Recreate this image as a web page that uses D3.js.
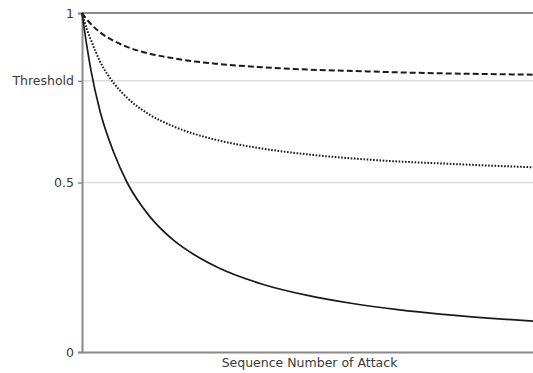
<!DOCTYPE html>
<html>
<head>
<meta charset="utf-8">
<script src="https://cdn.jsdelivr.net/npm/d3@7"></script>
<style>
  html, body { margin: 0; padding: 0; background: #fff; }
  text { font-family: "DejaVu Sans", sans-serif; fill: #333; }
</style>
</head>
<body>
<div id="chart"></div>
<script>
// === data ===
const attackNo   = [0, 1, 2, 4, 7, 10, 15, 20, 25, 30, 40, 50, 60, 70, 80, 90, 100];
const solidVals  = [1, 0.909, 0.83, 0.71, 0.59, 0.50, 0.40, 0.333, 0.286, 0.25, 0.20, 0.167, 0.143, 0.125, 0.111, 0.10, 0.091];
const dottedVals = [1, 0.955, 0.92, 0.857, 0.794, 0.75, 0.70, 0.667, 0.643, 0.625, 0.60, 0.583, 0.571, 0.562, 0.556, 0.55, 0.545];
const dashedVals = [1, 0.982, 0.967, 0.943, 0.918, 0.90, 0.88, 0.867, 0.857, 0.85, 0.84, 0.833, 0.829, 0.825, 0.822, 0.82, 0.818];
const yTickVals  = [0, 0.5, 0.8, 1];
const yTickText  = ["0", "0.5", "Threshold", "1"];
const gridVals   = [0.5, 0.8];

// === sizing ===
const outerW = 533, outerH = 373;
const margin = { top: 13, right: 0, bottom: 21, left: 82 };
const width  = outerW - margin.left - margin.right;
const height = outerH - margin.top - margin.bottom;

const svg = d3.select("#chart").append("svg")
  .attr("width", outerW).attr("height", outerH);
const g = svg.append("g").attr("transform", `translate(${margin.left},${margin.top})`);

const x = d3.scaleLinear().domain([0, 100]).range([0, width]);
const y = d3.scaleLinear().domain([0, 1]).range([height, 0]);

// grid lines
g.append("g").selectAll("line").data(gridVals).join("line")
  .attr("x1", 0).attr("x2", width)
  .attr("y1", d => y(d)).attr("y2", d => y(d))
  .attr("stroke", "#dcdcdc").attr("stroke-width", 1.5);

// top line at 1
g.append("line")
  .attr("x1", 0).attr("x2", width)
  .attr("y1", y(1)).attr("y2", y(1))
  .attr("stroke", "#8a8a8a").attr("stroke-width", 2);

// axes
const yAxis = g.append("g")
  .call(d3.axisLeft(y).tickValues(yTickVals).tickFormat((d, i) => yTickText[i]).tickSize(4).tickPadding(4));
yAxis.select(".domain").attr("stroke", "#8a8a8a").attr("stroke-width", 2);
yAxis.selectAll(".tick line").attr("stroke", "#8a8a8a").attr("stroke-width", 1.5);
yAxis.selectAll(".tick text").attr("font-size", 12.5).attr("font-family", "DejaVu Sans").style("fill", "#3a3a3a");

const xAxis = g.append("g").attr("transform", `translate(0,${height})`)
  .call(d3.axisBottom(x).tickValues([]).tickSizeOuter(0));
xAxis.select(".domain").attr("stroke", "#8a8a8a").attr("stroke-width", 2);

g.append("text")
  .attr("x", width / 2 + 2).attr("y", height + 15)
  .attr("text-anchor", "middle")
  .attr("font-size", 12.5)
  .style("fill", "#3a3a3a")
  .text("Sequence Number of Attack");

// curves
const series = [
  { vals: dashedVals, dash: "6,3", w: 2 },
  { vals: dottedVals, dash: "1.6,1.6", w: 2 },
  { vals: solidVals,  dash: null,  w: 1.7 }
];

const lineGen = d3.line()
  .x((d, i) => x(attackNo[i]))
  .y(d => y(d))
  .curve(d3.curveMonotoneX);

g.append("g").selectAll("path").data(series).join("path")
  .attr("fill", "none")
  .attr("stroke", "#1a1a1a")
  .attr("stroke-width", d => d.w)
  .attr("stroke-dasharray", d => d.dash)
  .attr("d", d => lineGen(d.vals));
</script>
</body>
</html>
